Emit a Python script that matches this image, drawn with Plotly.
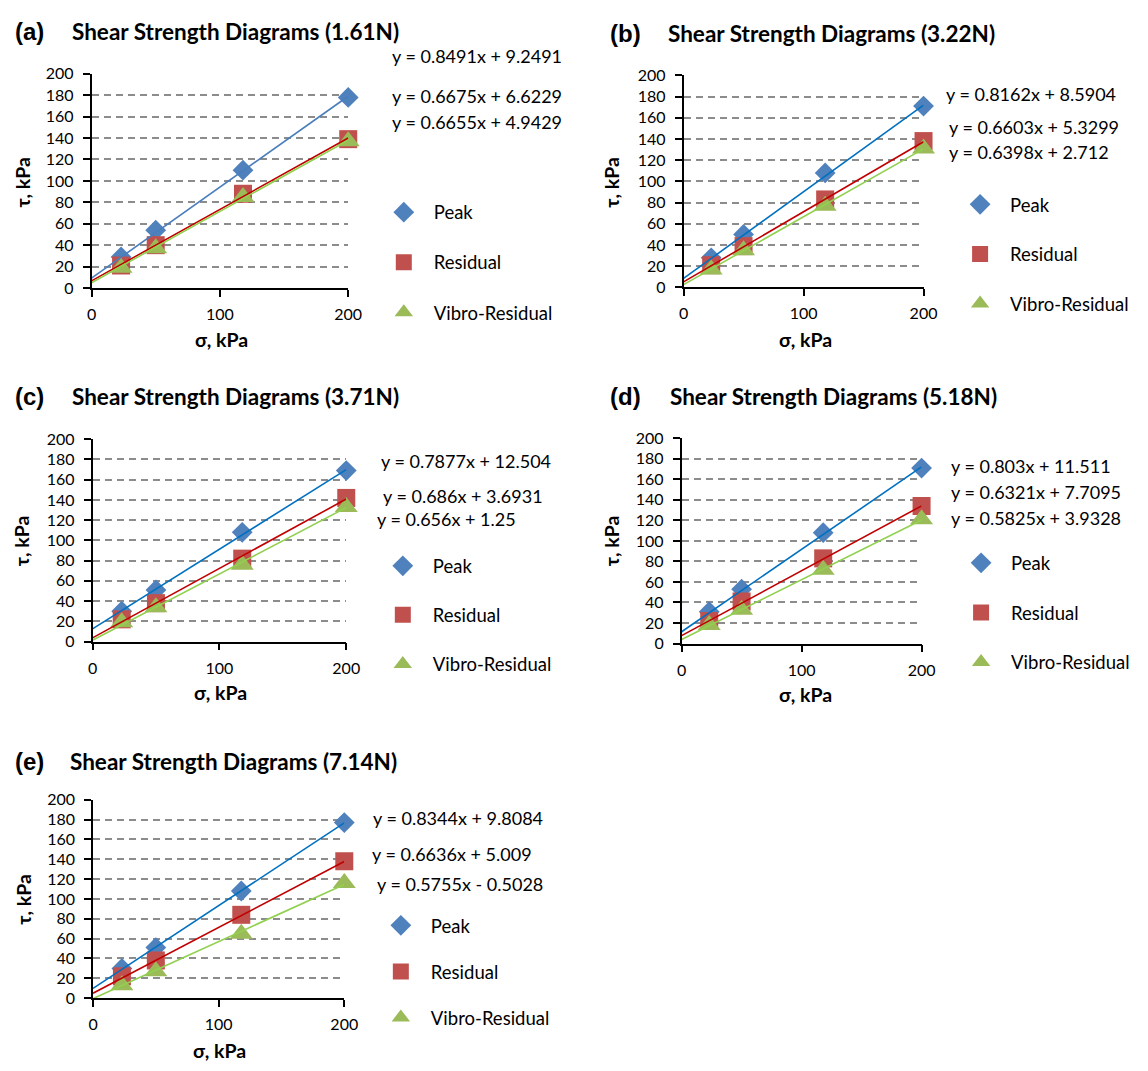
import plotly.graph_objects as go

W, H = 1148, 1071

# ---------------- data ----------------
sigma = [23, 50, 118, 200]
panel_labels = ["(a)", "(b)", "(c)", "(d)", "(e)"]
panel_titles = ["Shear Strength Diagrams (1.61N)", "Shear Strength Diagrams (3.22N)",
                "Shear Strength Diagrams (3.71N)", "Shear Strength Diagrams (5.18N)",
                "Shear Strength Diagrams (7.14N)"]
series_names = ["Peak", "Residual", "Vibro-Residual"]

peak_a = [29, 54, 110, 178]
res_a = [21, 40, 88, 139]
vib_a = [19, 37, 85, 137]
peak_b = [28, 50, 108, 171]
res_b = [21, 39, 83, 138]
vib_b = [17, 35, 77, 131]
peak_c = [30, 51, 108, 169]
res_c = [22, 38, 82, 142]
vib_c = [19, 34, 76, 133]
peak_d = [31, 53, 108, 171]
res_d = [22, 41, 83, 134]
vib_d = [18, 33, 72, 121]
peak_e = [30, 51, 108, 177]
res_e = [22, 38, 84, 138]
vib_e = [13, 27, 65, 116]

slope_peak = [0.8491, 0.8162, 0.7877, 0.803, 0.8344]
icpt_peak = [9.2491, 8.5904, 12.504, 11.511, 9.8084]
slope_res = [0.6675, 0.6603, 0.686, 0.6321, 0.6636]
icpt_res = [6.6229, 5.3299, 3.6931, 7.7095, 5.009]
slope_vib = [0.6655, 0.6398, 0.656, 0.5825, 0.5755]
icpt_vib = [4.9429, 2.712, 1.25, 3.9328, -0.5028]

eq_peak = ["y = 0.8491x + 9.2491", "y = 0.8162x + 8.5904", "y = 0.7877x + 12.504",
           "y = 0.803x + 11.511", "y = 0.8344x + 9.8084"]
eq_res = ["y = 0.6675x + 6.6229", "y = 0.6603x + 5.3299", "y = 0.686x + 3.6931",
          "y = 0.6321x + 7.7095", "y = 0.6636x + 5.009"]
eq_vib = ["y = 0.6655x + 4.9429", "y = 0.6398x + 2.712", "y = 0.656x + 1.25",
          "y = 0.5825x + 3.9328", "y = 0.5755x - 0.5028"]

x_ticks = [0, 100, 200]
y_ticks = list(range(0, 201, 20))
x_range = [0, 200]
y_range = [0, 200]

peaks = [peak_a, peak_b, peak_c, peak_d, peak_e]
resids = [res_a, res_b, res_c, res_d, res_e]
vibros = [vib_a, vib_b, vib_c, vib_d, vib_e]

# ---------------- layout (pixels) ----------------
# plot area: left, right, top, bottom
boxes = [(88, 349, 65, 283), (690, 934, 66.5, 282.5), (89, 347, 437, 643),
         (688, 932, 436, 645), (89.5, 345, 804, 1006)]
label_pos = [(25, 22), (631, 24), (25, 393), (631, 393), (25, 765)]
title_x = [66, 672, 66, 674, 64]
eq_pos = [[(391, 47), (391, 88), (391, 114)],
          [(955, 86), (958, 119), (958, 145)],
          [(380, 459), (382, 495), (376, 518)],
          [(960, 464), (960, 491), (960, 517)],
          [(372, 823), (371, 859), (376, 890)]]
leg_pos = [(405, 207), (991, 199), (404, 567), (992, 564), (402, 933)]
leg_gap = [23, 22.5, 22, 22.5, 19]
xt_pos = [(220, 335), (814, 335), (219, 695), (814, 697), (218, 1059)]
yt_pos = [(18, 175), (617, 175), (17, 540), (617, 540), (19, 905)]

peak_line_colors = ["#4A7EBB", "#0070C0", "#0070C0", "#0070C0", "#0070C0"]
res_line_color = "#C00000"
vib_line_color = "#92D050"
mk_colors = ["#4F81BD", "#C0504D", "#9BBB59"]
mk_symbols = ["diamond", "square", "triangle-up"]
mk_sizes = [16, 18, 20]

FONT = "Lato"

def px(x):
    return x / W

def py(y):
    return 1 - y / H

fig = go.Figure()
annotations = []
layout = dict(
    width=W, height=H, margin=dict(l=0, r=0, t=0, b=0),
    paper_bgcolor="white", plot_bgcolor="white", showlegend=True,
    font=dict(family=FONT, color="black", size=16),
)

for i in range(5):
    n = "" if i == 0 else str(i + 1)
    xa, ya = "x" + n, "y" + n
    l, r, t, b = boxes[i]
    layout["xaxis" + n] = dict(
        domain=[px(l), px(r)], anchor=ya, range=x_range, tickvals=x_ticks,
        showgrid=False, zeroline=False, showline=True, linecolor="black", linewidth=1.5,
        ticks="outside", ticklen=7, tickwidth=1.5, tickcolor="black",
        tickfont=dict(family=FONT, size=16, color="black"), ticklabelstandoff=4,
    )
    layout["yaxis" + n] = dict(
        domain=[py(b), py(t)], anchor=xa, range=y_range, tickvals=y_ticks,
        showgrid=True, gridcolor="#8C8C8C", gridwidth=1.5, griddash="7px,5px",
        zeroline=False, showline=True, linecolor="black", linewidth=1.5,
        ticks="outside", ticklen=7, tickwidth=1.5, tickcolor="black",
        tickfont=dict(family=FONT, size=16, color="black"), ticklabelstandoff=6,
    )
    leg = "legend" + n
    lx, ly = leg_pos[i]
    layout[leg] = dict(
        x=px(lx - 30), y=py(ly - 20), xanchor="left", yanchor="top",
        bgcolor="rgba(0,0,0,0)", borderwidth=0, tracegroupgap=leg_gap[i],
        font=dict(family=FONT, size=18.5, color="black"), itemwidth=50,
    )
    series = [peaks[i], resids[i], vibros[i]]
    for k in range(3):
        fig.add_trace(go.Scatter(
            x=sigma, y=series[k], mode="markers", name=series_names[k],
            marker=dict(symbol=mk_symbols[k], size=mk_sizes[k], color=mk_colors[k],
                        line=dict(width=0)),
            xaxis=xa, yaxis=ya, legend=leg, legendgroup=f"g{i}{k}", cliponaxis=False,
        ))
    line_specs = [(slope_peak[i], icpt_peak[i], peak_line_colors[i]),
                  (slope_res[i], icpt_res[i], res_line_color),
                  (slope_vib[i], icpt_vib[i], vib_line_color)]
    for s, c, col in line_specs:
        fig.add_trace(go.Scatter(
            x=x_range, y=[s * x_range[0] + c, s * x_range[1] + c], mode="lines",
            line=dict(color=col, width=1.6), showlegend=False, hoverinfo="skip",
            xaxis=xa, yaxis=ya, cliponaxis=False,
        ))
    # panel label and title
    annotations.append(dict(text="<b>" + panel_labels[i] + "</b>", x=px(label_pos[i][0]),
                            y=py(label_pos[i][1]), xref="paper", yref="paper", showarrow=False,
                            xanchor="center", yanchor="middle",
                            font=dict(family="Liberation Sans", size=24, color="black")))
    annotations.append(dict(text="<b>" + panel_titles[i] + "</b>", x=px(title_x[i]),
                            y=py(label_pos[i][1]), xref="paper", yref="paper", showarrow=False,
                            xanchor="left", yanchor="middle",
                            font=dict(family=FONT, size=22.5, color="black")))
    for (ex, ey), txt in zip(eq_pos[i], [eq_peak[i], eq_res[i], eq_vib[i]]):
        annotations.append(dict(text=txt, x=px(ex), y=py(ey), xref="paper", yref="paper",
                                showarrow=False, xanchor="left", yanchor="middle",
                                font=dict(family=FONT, size=18, color="black")))
    annotations.append(dict(text="<b>σ, kPa</b>", x=px(xt_pos[i][0]), y=py(xt_pos[i][1]),
                            xref="paper", yref="paper", showarrow=False,
                            xanchor="center", yanchor="middle",
                            font=dict(family=FONT, size=19.5, color="black")))
    annotations.append(dict(text="<b>τ, kPa</b>", x=px(yt_pos[i][0]), y=py(yt_pos[i][1]),
                            xref="paper", yref="paper", showarrow=False, textangle=-90,
                            xanchor="center", yanchor="middle",
                            font=dict(family=FONT, size=19.5, color="black")))

layout["annotations"] = annotations
fig.update_layout(**layout)
fig.write_html(
    "out.html",
    post_script="document.body.style.margin='0';document.body.style.overflow='hidden';",
)
